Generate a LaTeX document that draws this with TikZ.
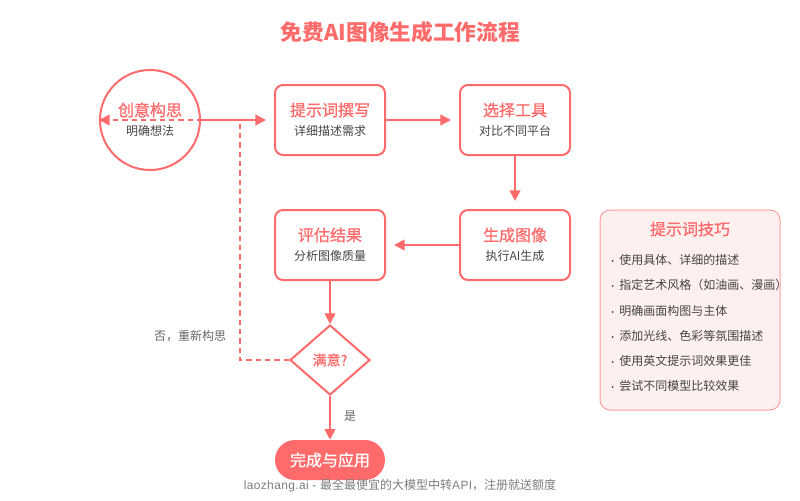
\documentclass[tikz,border=0pt]{standalone}
\usepackage{fontspec}
\usepackage{tikz}
\usetikzlibrary{arrows.meta,shapes.geometric}
\setmainfont{Noto Sans CJK SC}
\newfontfamily\headfont[FakeBold=1]{Noto Sans CJK SC}
\newfontfamily\footfont{Liberation Sans}
\definecolor{coral}{HTML}{FF6B6B}
\definecolor{tipfill}{HTML}{FFF0F0}
\definecolor{tipline}{HTML}{FF9E9E}
\definecolor{bodytext}{HTML}{444444}
\definecolor{notetext}{HTML}{666666}
\newcommand{\tipsize}{\fontsize{9}{11}\selectfont}
\tikzset{
  stepbox/.style={draw=coral,line width=1.5pt,rounded corners=6pt,minimum width=82.5pt,minimum height=52.5pt,inner sep=0pt},
  headtext/.style={text=coral,font=\fontsize{12}{14}\selectfont\headfont\addfontfeature{FakeBold=1},inner sep=0pt},
  subtext/.style={text=bodytext,font=\fontsize{9}{11}\selectfont,inner sep=0pt},
  tiptext/.style={text=bodytext,font=\tipsize,inner sep=0pt,anchor=west},
  flow/.style={draw=coral,line width=1.5pt,-{Triangle[length=8pt,width=8pt]}},
  gapflow/.style={flow,shorten >=6pt},
  back/.style={flow,dash pattern=on 4pt off 3pt},
}
\begin{document}
\begin{tikzpicture}[x=0.75pt,y=-0.75pt]
\useasboundingbox (0,0) rectangle (800,500);
\node [text=coral,font=\fontsize{16.3}{20}\selectfont\bfseries,inner sep=0pt] (title) at (400.5,32) {免费AI图像生成工作流程};
% boxes
\node [draw=coral,line width=1.5pt,circle,minimum size=75pt,inner sep=0pt] (idea) at (150,120) {};
\node [stepbox] (prompt) at (330,120) {};
\node [stepbox] (tool) at (515,120) {};
\node [stepbox] (image) at (515,245) {};
\node [stepbox] (review) at (330,245) {};
\node [draw=coral,line width=1.5pt,diamond,aspect=1.14,minimum width=60pt,minimum height=52.5pt,inner sep=0pt] (check) at (330,360) {};
\node [fill=coral,rounded corners=15pt,minimum width=82.5pt,minimum height=30pt,inner sep=0pt] (done) at (330,460) {};
\node [draw=tipline,fill=tipfill,line width=0.75pt,rounded corners=7.5pt,minimum width=135pt,minimum height=150pt,inner sep=0pt] (tips) at (690,310) {};
% box texts
\node [headtext] (ideahead) at (150,110) {创意构思};
\node [subtext] (ideasub) at (150,131) {明确想法};
\node [headtext] (prompthead) at (330,110) {提示词撰写};
\node [subtext] (promptsub) at (330,131) {详细描述需求};
\node [headtext] (toolhead) at (515,110) {选择工具};
\node [subtext] (toolsub) at (515,131) {对比不同平台};
\node [headtext] (imagehead) at (515,235) {生成图像};
\node [subtext] (imagesub) at (515,256) {执行AI生成};
\node [headtext] (reviewhead) at (330,235) {评估结果};
\node [subtext] (reviewsub) at (330,256) {分析图像质量};
\node [text=coral,font=\fontsize{10.5}{13}\selectfont\headfont,inner sep=0pt] (checktext) at (330,360) {满意?};
\node [text=white,font=\fontsize{12}{14}\selectfont\headfont,inner sep=0pt] (donetext) at (330,460) {完成与应用};
% tips
\node [headtext] (tipshead) at (690,229) {提示词技巧};
\foreach \tipname/\tipy/\tiptxt in {a/260/使用具体、详细的描述,b/285/指定艺术风格（如油画、漫画）,c/311/明确画面构图与主体,d/336/添加光线、色彩等氛围描述,e/361/使用英文提示词效果更佳,f/386/尝试不同模型比较效果}
{
  \node [fill=bodytext,circle,minimum size=1.5pt,inner sep=0pt] (dot\tipname) at (612.5,\tipy+1) {};
  \node [tiptext] (tip\tipname) at (619,\tipy) {\tiptxt};
}
% connectors
\draw [gapflow] (idea) -- (prompt);
\draw [gapflow] (prompt) -- (tool);
\draw [gapflow] (tool) -- (image);
\draw [gapflow] (image) -- (review);
\draw [flow] (review) -- (check);
\draw [flow] (check) -- (done);
\coordinate (turn) at (240,360);
\coordinate (rise) at (240,120);
\draw [back] (check.west) -- (turn) -- (rise) -- (idea.west);
% labels
\node [text=notetext,font=\fontsize{9}{11}\selectfont,inner sep=0pt] (nolabel) at (190,336) {否，重新构思};
\node [text=notetext,font=\fontsize{9}{11}\selectfont,inner sep=0pt] (yeslabel) at (350,416) {是};
\node [text=notetext!85,font=\fontsize{9}{11}\selectfont,inner sep=0pt] (footer) at (400,486) {{\footfont\addfontfeature{LetterSpace=3}laozhang.ai - }最全最便宜的大模型中转{\footfont\addfontfeature{LetterSpace=3}API}，注册就送额度};
\end{tikzpicture}
\end{document}
